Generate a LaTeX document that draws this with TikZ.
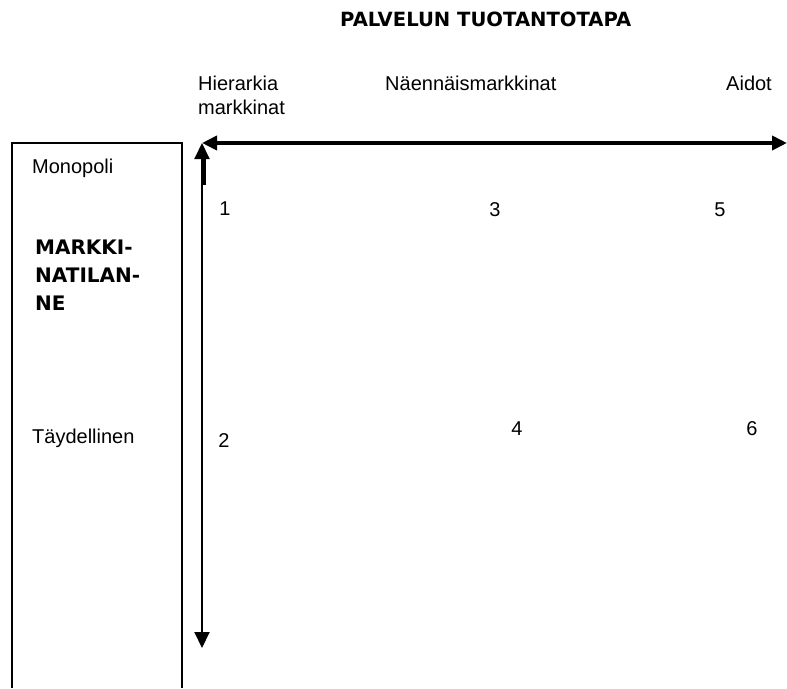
\documentclass[tikz,border=0pt]{standalone}
\usepackage{fontspec}
\setmainfont{Liberation Sans}
\newfontfamily\headfont{DejaVu Sans}
\usetikzlibrary{arrows.meta}
\begin{document}
\begin{tikzpicture}[x=1pt,y=-1pt,
  lbl/.style={inner sep=0pt,anchor=base west,font=\fontsize{20}{24}\selectfont},
  num/.style={inner sep=0pt,anchor=base,font=\fontsize{20}{24}\selectfont},
  head/.style={inner sep=0pt,anchor=base west,font=\headfont\bfseries\fontsize{19.6}{23}\selectfont},
  side/.style={inner sep=0pt,anchor=base west,font=\headfont\bfseries\fontsize{20}{28}\selectfont,align=left},
  haxis/.style={line width=4pt,{Triangle[length=15pt,width=14pt]}-{Triangle[length=15pt,width=14pt]}},
  vaxis/.style={line width=2pt,{Triangle[length=16pt,width=15pt]}-{Triangle[length=16pt,width=15pt]}}]
\useasboundingbox (0,0) rectangle (787,688);

% side panel (open at the bottom)
\draw[line width=2pt] (12,688) -- (12,143) -- (182,143) -- (182,688);

% axes
\coordinate (origin) at (202,143);
\coordinate (xend) at (787,143);
\coordinate (yend) at (202,648);
\coordinate (stubtop) at (204,158);
\coordinate (stubbot) at (204,185);
\draw[haxis] (origin) -- (xend);
\draw[vaxis] (origin) -- (yend);
\draw[line width=4pt] (stubtop) -- (stubbot);

% headings
\node[head] (title) at (340,26) {PALVELUN TUOTANTOTAPA};
\node[lbl] (hier) at (198,90) {Hierarkia};
\node[lbl] (hier2) at (198,114) {markkinat};
\node[lbl] (naenn) at (385,90) {Näennäismarkkinat};
\node[lbl,anchor=base east] (aidot) at (772,90) {Aidot};

% side labels
\node[lbl] (mono) at (32,173) {Monopoli};
\node[side] (mark1) at (35,254) {MARKKI-};
\node[side] (mark2) at (35,282) {NATILAN-};
\node[side] (mark3) at (35,310) {NE};
\node[lbl] (tayd) at (32,443) {Täydellinen};

% cell numbers
\node[num] (n1) at (225,215) {1};
\node[num] (n3) at (495,216) {3};
\node[num] (n5) at (720,216) {5};
\node[num] (n2) at (224,447) {2};
\node[num] (n4) at (517,435) {4};
\node[num] (n6) at (752,435) {6};
\end{tikzpicture}
\end{document}
